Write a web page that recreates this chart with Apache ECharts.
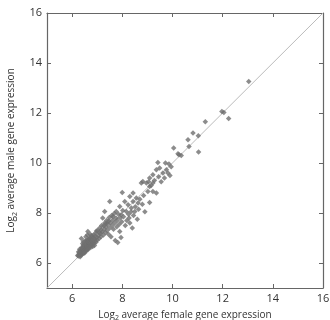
<!DOCTYPE html>
<html>
<head>
<meta charset="utf-8">
<script src="https://cdn.jsdelivr.net/npm/echarts@6/dist/echarts.min.js"></script>
<style>
  html, body { margin: 0; padding: 0; background: #fff; }
  #chart { width: 330px; height: 320px; }
</style>
</head>
<body>
<div id="chart"></div>
<script>
// axis ticks, shared by both axes
const tickValues = [6, 8, 10, 12, 14, 16];
const axisRange = [5, 16];

// y = x reference line ends
const diagonal = [5, 16];

// [log2 female, log2 male] per gene
const genes = [
  [6.22, 6.30], [6.25, 6.28], [6.27, 6.35], [6.28, 6.42], [6.30, 6.32], [6.31, 6.40],
  [6.33, 6.48], [6.34, 6.36], [6.35, 6.30], [6.36, 6.44], [6.37, 6.55], [6.38, 6.38],
  [6.40, 6.47], [6.40, 6.35], [6.41, 6.60], [6.42, 6.42], [6.43, 6.52], [6.44, 6.38],
  [6.45, 6.65], [6.46, 6.47], [6.47, 6.56], [6.48, 6.42], [6.49, 6.70], [6.50, 6.52],
  [6.51, 6.61], [6.52, 6.46], [6.53, 6.75], [6.54, 6.56], [6.55, 6.66], [6.56, 6.50],
  [6.57, 6.82], [6.58, 6.60], [6.60, 6.70], [6.60, 6.54], [6.62, 6.88], [6.63, 6.65],
  [6.64, 6.76], [6.65, 6.58], [6.66, 6.95], [6.67, 6.70], [6.68, 6.82], [6.70, 6.64],
  [6.71, 7.00], [6.72, 6.76], [6.73, 6.88], [6.75, 6.70], [6.76, 6.94], [6.78, 6.80],
  [6.80, 7.05], [6.81, 6.74], [6.83, 6.90], [6.85, 6.82], [6.86, 7.12], [6.88, 6.78],
  [6.90, 6.96], [6.92, 6.88], [6.94, 7.20], [6.96, 6.84], [6.98, 7.02], [7.00, 6.92],
  [6.63, 7.26], [6.37, 6.98], [6.55, 7.05], [6.30, 6.55], [6.45, 6.85], [6.72, 7.15],
  [6.82, 6.66], [6.26, 6.45], [6.32, 6.25], [6.39, 6.62], [6.44, 6.72], [6.50, 6.40],
  [6.58, 6.90], [6.62, 6.52], [6.69, 6.98], [6.74, 6.62], [6.79, 7.10], [6.84, 7.00],
  [6.89, 6.70], [6.93, 7.08], [6.97, 7.28], [6.42, 6.78], [6.52, 6.88], [6.61, 7.12],
  [7.02, 7.30], [7.05, 7.10], [7.08, 6.98], [7.10, 7.40], [7.12, 7.18], [7.15, 7.05],
  [7.18, 7.50], [7.20, 7.25], [7.22, 7.80], [7.25, 7.12], [7.28, 7.36], [7.30, 8.06],
  [7.30, 7.60], [7.33, 7.22], [7.35, 7.45], [7.38, 7.70], [7.40, 7.30], [7.42, 7.55],
  [7.45, 7.15], [7.48, 7.82], [7.50, 8.46], [7.50, 7.40], [7.52, 7.62], [7.55, 7.05],
  [7.58, 7.90], [7.60, 7.50], [7.62, 7.72], [7.63, 7.86], [7.65, 7.35], [7.68, 7.98],
  [7.70, 7.60], [7.72, 6.90], [7.75, 7.80], [7.76, 8.06], [7.78, 7.45], [7.80, 7.70],
  [7.82, 6.82], [7.85, 7.95], [7.88, 7.55], [7.90, 8.26], [7.90, 7.26], [7.92, 7.80],
  [7.95, 7.02], [7.96, 7.93], [7.98, 7.65], [8.00, 8.82], [8.02, 8.10],
  [7.08, 7.22], [7.16, 7.32], [7.26, 7.48], [7.36, 7.58], [7.46, 7.68],
  [8.05, 7.85], [8.10, 8.46], [8.12, 7.50], [8.16, 8.06], [8.18, 7.70], [8.23, 8.33],
  [8.25, 7.95], [8.27, 7.80], [8.30, 8.66], [8.30, 7.60], [8.35, 8.05], [8.36, 8.20],
  [8.40, 7.40], [8.43, 8.46], [8.43, 8.80], [8.45, 7.90], [8.50, 8.06], [8.52, 8.25],
  [8.56, 8.60], [8.60, 7.75], [8.63, 8.40], [8.65, 8.15], [8.70, 8.55], [8.76, 9.20],
  [8.80, 8.35], [8.82, 9.26], [8.85, 8.70], [8.90, 8.05], [8.96, 9.20], [9.02, 8.86],
  [9.05, 9.25], [9.09, 9.40], [9.09, 9.06], [9.09, 8.42], [9.15, 9.10], [9.22, 9.53],
  [9.22, 9.20], [9.22, 8.86], [9.28, 9.30], [9.36, 9.73], [9.36, 8.80], [9.42, 10.02],
  [9.45, 9.45], [9.49, 9.80], [9.55, 9.25], [9.62, 9.60], [9.68, 9.40], [9.72, 10.00],
  [9.76, 9.73], [9.82, 9.60], [9.86, 9.96], [9.90, 9.50], [9.95, 9.85],
  [10.05, 10.60], [10.22, 10.37], [10.26, 10.33], [10.35, 10.30], [10.62, 10.93],
  [10.66, 10.66], [10.82, 11.20], [11.03, 11.09], [11.04, 10.44], [11.31, 11.65],
  [11.97, 12.06], [12.05, 12.02], [12.24, 11.78], [13.04, 13.26]
];

const chart = echarts.init(document.getElementById('chart'));

const font = 'Open Sans, sans-serif';
const lineColor = '#666';
const textColor = '#333';

const nameRich = {
  a: { fontSize: 10, fontFamily: font, color: textColor, lineHeight: 14 },
  s: { fontSize: 7, fontFamily: font, color: textColor, lineHeight: 14, verticalAlign: 'bottom', padding: [6, 0, 0, 0] }
};

function axis(position, showLabels, name) {
  return {
    type: 'value',
    position: position,
    min: axisRange[0],
    max: axisRange[1],
    name: showLabels ? name : '',
    nameLocation: 'middle',
    nameGap: position === 'bottom' ? 19 : 27,
    nameTextStyle: { rich: nameRich },
    axisLine: { show: true, onZero: false, lineStyle: { color: lineColor, width: 1.2 } },
    axisTick: { show: true, inside: true, length: 4, customValues: tickValues, lineStyle: { color: lineColor } },
    axisLabel: {
      show: showLabels,
      customValues: tickValues,
      fontSize: 11,
      fontFamily: font,
      color: textColor,
      margin: 5
    },
    splitLine: { show: false }
  };
}

chart.setOption({
  animation: false,
  grid: { left: 47, right: 7, top: 13, bottom: 32, containLabel: false, outerBoundsMode: 'none' },
  xAxis: [
    axis('bottom', true, '{a|Log}{s|2}{a| average female gene expression}'),
    axis('top', false, '')
  ],
  yAxis: [
    axis('left', true, '{a|Log}{s|2}{a| average male gene expression}'),
    axis('right', false, '')
  ],
  series: [
    {
      type: 'line',
      data: [[diagonal[0], diagonal[0]], [diagonal[1], diagonal[1]]],
      showSymbol: false,
      silent: true,
      lineStyle: { color: '#bbbbbb', width: 1 },
      z: 1
    },
    {
      type: 'scatter',
      data: genes,
      symbol: 'diamond',
      symbolSize: 5.5,
      itemStyle: { color: '#6f6f6f' },
      z: 2
    }
  ]
});
</script>
</body>
</html>
